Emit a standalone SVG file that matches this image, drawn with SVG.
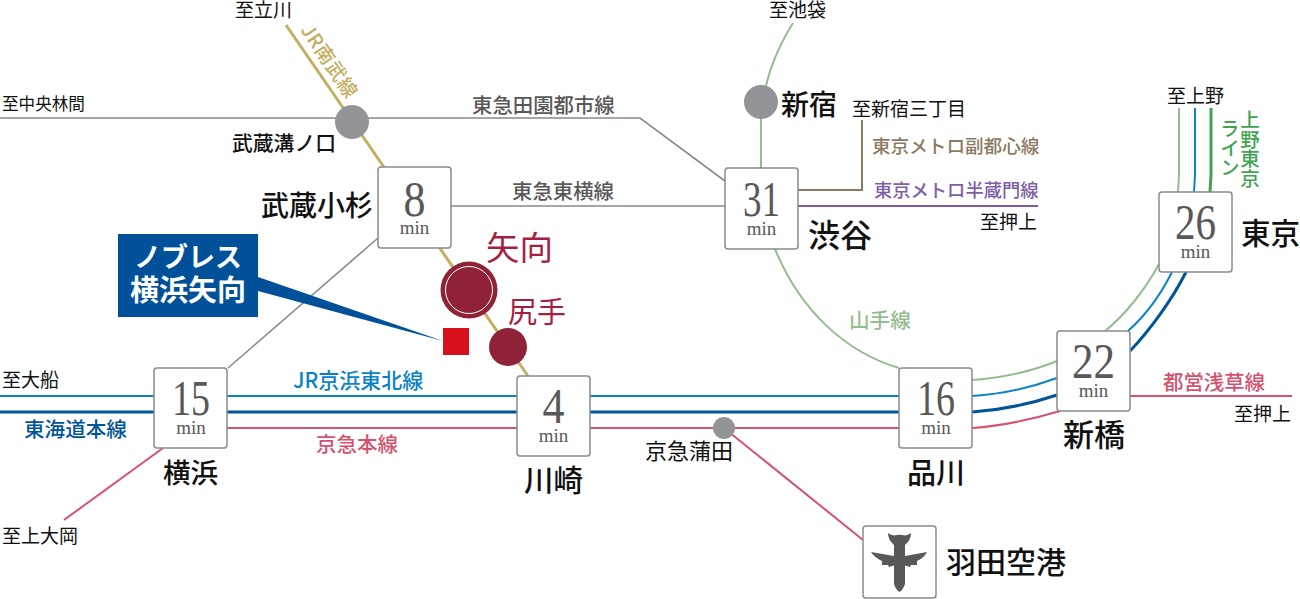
<svg xmlns="http://www.w3.org/2000/svg" width="1300" height="599" viewBox="0 0 1300 599">
<style>
text{font-family:"Noto Sans CJK JP","Noto Sans",sans-serif}
.l{fill:none;stroke-width:2}
.nb{stroke:#c4ae62;stroke-width:3}
.gy{stroke:#898989;stroke-width:1.6}
.ym{stroke:#93bd8e}
.kh{stroke:#0a82c8}
.tk{stroke:#00549a;stroke-width:3}
.kq{stroke:#d4526e}
.box{fill:#fff;stroke:#8a8a8a;stroke-width:1.5}
.num{font-family:"Liberation Serif",serif;font-size:50px;fill:#595757;text-anchor:middle}
.min{font-family:"Liberation Serif",serif;font-size:19px;fill:#595757;text-anchor:middle}
.to{font-size:19px;fill:#111}
.st{fill:#111;font-weight:500}
.ln{font-size:20px;font-weight:500}
</style>
<g id="connectors">
<path class="l nb" d="M286 25L528 376"/>
<path class="l gy" d="M0 118H640L725 181"/>
<path class="l gy" d="M451 206H725"/>
<path class="l gy" d="M228 368L378 238"/>
<path class="l kq" d="M64 520L163 448"/>
<path class="l kh" d="M0 396H899"/>
<path class="l tk" d="M0 412H899"/>
<path class="l kq" d="M227 428H899"/>
<path class="l ym" d="M793 23C778 47 768 72 764 96L761 120V168"/>
<path class="l ym" d="M775 249C800 310 845 352 899 368"/>
<path class="l ym" d="M972 380C1002 378 1030 372 1057 361"/>
<path class="l ym" d="M1105 331C1125 315 1145 290 1159 264"/>
<path class="l ym" d="M1179 108V175L1178 192"/>
<path class="l kh" d="M972 396C1002 394 1030 388 1057 378"/>
<path class="l kh" d="M1128 331C1145 316 1160 296 1172 272"/>
<path class="l kh" d="M1195 108V175L1194 192"/>
<path class="l tk" d="M972 412C1002 410 1030 404 1057 395"/>
<path class="l tk" d="M1130 351C1150 330 1172 300 1186 272"/>
<path class="l" style="stroke:#3fa452;stroke-width:3" d="M1211 108V175L1210 192"/>
<path class="l kq" d="M972 428C1002 426 1030 420 1060 411"/>
<path class="l kq" d="M1130 396H1292"/>
<path class="l kq" d="M724 428L863 540"/>
<path class="l" style="stroke:#7e5ea5" d="M798 206H1038"/>
<path class="l" style="stroke:#8c7a64" d="M798 190H862V120"/>
</g>
<g id="musashi-mizonokuchi"><circle cx="352" cy="122" r="17" fill="#929497"/><text class="st" x="232" y="151" font-size="20.8">武蔵溝ノ口</text></g>
<g id="shinjuku"><circle cx="761" cy="102" r="17" fill="#929497"/><text class="st" x="781" y="115" font-size="28">新宿</text></g>
<g id="musashi-kosugi"><rect class="box" x="378" y="167" width="73" height="81" rx="3"/><text class="num" x="414.500" y="216" textLength="22" lengthAdjust="spacingAndGlyphs">8</text><text class="min" x="414.500" y="234">min</text><text class="st" x="261" y="216" font-size="28">武蔵小杉</text></g>
<g id="shibuya"><rect class="box" x="725" y="168" width="73" height="81" rx="3"/><text class="num" x="761.500" y="216" textLength="37" lengthAdjust="spacingAndGlyphs">31</text><text class="min" x="761.500" y="235">min</text><text class="st" x="808" y="247" font-size="32">渋谷</text></g>
<g id="tokyo"><rect class="box" x="1159" y="192" width="73" height="80" rx="3"/><text class="num" x="1195.500" y="239" textLength="41" lengthAdjust="spacingAndGlyphs">26</text><text class="min" x="1195.500" y="258">min</text><text class="st" x="1241" y="244" font-size="29.500">東京</text></g>
<g id="shimbashi"><rect class="box" x="1057" y="331" width="73" height="80" rx="3"/><text class="num" x="1093.500" y="378" textLength="43" lengthAdjust="spacingAndGlyphs">22</text><text class="min" x="1093.500" y="397">min</text><text class="st" x="1063" y="446" font-size="31">新橋</text></g>
<g id="shinagawa"><rect class="box" x="899" y="368" width="73" height="80" rx="3"/><text class="num" x="936" y="415" textLength="38" lengthAdjust="spacingAndGlyphs">16</text><text class="min" x="936" y="434">min</text><text class="st" x="907" y="484" font-size="29">品川</text></g>
<g id="kawasaki"><rect class="box" x="517" y="376" width="73" height="80" rx="3"/><text class="num" x="553.500" y="423" textLength="22" lengthAdjust="spacingAndGlyphs">4</text><text class="min" x="553.500" y="442">min</text><text class="st" x="524" y="491" font-size="29.500">川崎</text></g>
<g id="yokohama"><rect class="box" x="154" y="368" width="73" height="80" rx="3"/><text class="num" x="191" y="415" textLength="38" lengthAdjust="spacingAndGlyphs">15</text><text class="min" x="191" y="434">min</text><text class="st" x="163" y="483" font-size="27.500">横浜</text></g>
<g id="keikyu-kamata"><circle cx="724" cy="428" r="11" fill="#929497"/><text class="st" x="645" y="459" font-size="22" style="font-weight:400">京急蒲田</text></g>
<g id="haneda"><rect class="box" x="863" y="526" width="73" height="72" rx="3"/>
<path fill="#595757" d="M888 533Q891 535 894 535.500Q899.500 534 905 535.500Q908 535 911 533Q911 540 905 545V556L927 552Q924 558 917 561L917 565L911 565L910 567L905 565.500V584Q903 590 899.500 592Q896 590 894 584V565.500L889 567L888 565L882 565L882 561Q875 558 871 552L894 556V545Q888 540 888 533Z"/>
<text class="st" x="946" y="573" font-size="30">羽田空港</text></g>
<g id="yako"><circle cx="469" cy="290" r="28.500" fill="#8f2238"/><circle cx="469" cy="290" r="23.500" fill="none" stroke="#fff" stroke-width="1"/><text x="486" y="260" font-size="33.500" fill="#a51f44">矢向</text></g>
<g id="shitte"><circle cx="508" cy="347" r="19" fill="#8f2238"/><text x="508" y="323" font-size="29" fill="#a51f44">尻手</text></g>
<g id="noblesse">
<rect x="443" y="328" width="26" height="27" fill="#d7101b"/>
<path fill="#00519a" d="M258 277V291L443 341Z"/>
<rect x="118" y="234" width="140" height="83" fill="#00519a"/>
<text x="188" y="267" font-size="27" font-weight="700" fill="#fff" text-anchor="middle">ノブレス</text>
<text x="188" y="301" font-size="29" font-weight="700" fill="#fff" text-anchor="middle">横浜矢向</text>
</g>
<g id="labels">
<text class="to" x="235" y="17">至立川</text>
<text class="to" x="769" y="17">至池袋</text>
<text class="to" x="2" y="110" style="font-size:16.600px">至中央林間</text>
<text class="to" x="2" y="387">至大船</text>
<text class="to" x="2" y="543">至上大岡</text>
<text class="to" x="852" y="116">至新宿三丁目</text>
<text class="to" x="1167" y="103">至上野</text>
<text class="to" x="980" y="229">至押上</text>
<text class="to" x="1234" y="421">至押上</text>
<text class="ln" transform="translate(300 30) rotate(56)" style="font-size:19.500px;letter-spacing:.5px" fill="#c4ae62">JR南武線</text>
<text class="ln" x="472" y="113" fill="#595757" style="font-size:20.400px">東急田園都市線</text>
<text class="ln" x="512" y="199" fill="#595757" style="font-size:20.400px">東急東横線</text>
<text class="ln" x="293" y="388" fill="#0a82c8" style="font-size:21px">JR京浜東北線</text>
<text class="ln" x="24" y="437" fill="#00549a" style="font-size:20.600px">東海道本線</text>
<text class="ln" x="316" y="452" fill="#d4526e" style="font-size:20.500px">京急本線</text>
<text class="ln" x="849" y="328" fill="#93bd8e" style="font-size:20.600px">山手線</text>
<text class="ln" x="872" y="153" fill="#8c7a64" style="font-size:18.600px">東京メトロ副都心線</text>
<text class="ln" x="874" y="197" fill="#7e5ea5" style="font-size:18.300px">東京メトロ半蔵門線</text>
<text class="ln" x="1163" y="390" fill="#d4526e" style="font-size:20.400px">都営浅草線</text>
<text class="ln" x="1250" y="110" fill="#3fa452" style="writing-mode:vertical-rl;font-size:19.500px">上野東京</text>
<text class="ln" x="1230" y="119" fill="#3fa452" style="writing-mode:vertical-rl;font-size:19.500px">ライン</text>
</g>
</svg>
